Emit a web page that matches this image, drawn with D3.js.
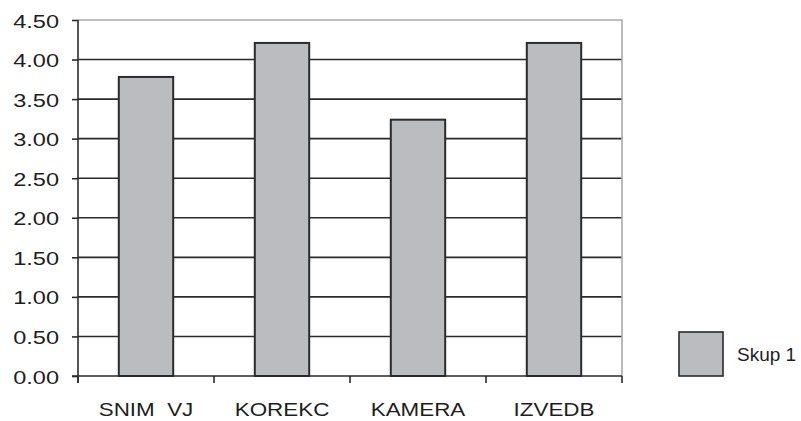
<!DOCTYPE html>
<html>
<head>
<meta charset="utf-8">
<script src="https://cdn.jsdelivr.net/npm/d3@7"></script>
<style>
  html, body { margin: 0; padding: 0; background: #fff; }
  svg { display: block; }
  text { font-family: "Liberation Sans", Arial, sans-serif; fill: #1e1e1e; }
</style>
</head>
<body>
<svg id="chart" width="801" height="421"></svg>
<script>
// Ocjene po kategorijama
const categories = ["SNIM  VJ", "KOREKC", "KAMERA", "IZVEDB"];
const values = [3.78, 4.21, 3.24, 4.21];
const yTicks = [0, 0.5, 1, 1.5, 2, 2.5, 3, 3.5, 4, 4.5];
const seriesName = "Skup 1";

const svg = d3.select("#chart");
const plot = { left: 78, right: 622, top: 20, bottom: 376 };
const ink = "#2b2b2b";
const barFill = "#bbbcc0";

const x = d3.scaleBand().domain(categories).range([plot.left, plot.right]).padding(0);
const y = d3.scaleLinear().domain([0, 4.5]).range([plot.bottom, plot.top]);

// Horizontal gridlines
svg.append("g").selectAll("line")
  .data(yTicks.filter(t => t > 0 && t < 4.5))
  .join("line")
  .attr("x1", plot.left).attr("x2", plot.right)
  .attr("y1", d => y(d)).attr("y2", d => y(d))
  .attr("stroke", ink).attr("stroke-width", 1.6);

// Plot frame (top and right edges)
svg.append("path")
  .attr("d", `M${plot.left},${y(4.5)}H${plot.right}V${plot.bottom}`)
  .attr("fill", "none").attr("stroke", "#a9a9ad").attr("stroke-width", 1.6);

// Bars
const barW = x.bandwidth() * 0.4;
svg.append("g").selectAll("rect")
  .data(categories.map((c, i) => ({ c, v: values[i] })))
  .join("rect")
  .attr("x", d => x(d.c) + (x.bandwidth() - barW) / 2)
  .attr("y", d => y(d.v))
  .attr("width", barW)
  .attr("height", d => y(0) - y(d.v))
  .attr("fill", barFill)
  .attr("stroke", ink).attr("stroke-width", 2);

// Y axis
const yAxis = svg.append("g")
  .attr("transform", `translate(${plot.left},0)`)
  .call(d3.axisLeft(y).tickValues(yTicks).tickFormat(d3.format(".2f")).tickSize(6).tickSizeOuter(0));
yAxis.select(".domain").remove();
yAxis.append("line")
  .attr("x1", 0).attr("x2", 0).attr("y1", y(4.5)).attr("y2", plot.bottom + 7)
  .attr("stroke", ink).attr("stroke-width", 1.6);
yAxis.selectAll(".tick line").attr("stroke", ink).attr("stroke-width", 1.6);
yAxis.selectAll(".tick text").remove();
yAxis.selectAll(".tick").append("text")
  .attr("transform", "translate(-19,7) scale(1.24,1)")
  .attr("text-anchor", "end")
  .style("font-size", "19px")
  .text(d => d3.format(".2f")(d));

// X axis with ticks at category boundaries
const xAxis = svg.append("g");
xAxis.append("line")
  .attr("x1", plot.left - 6).attr("x2", plot.right)
  .attr("y1", plot.bottom).attr("y2", plot.bottom)
  .attr("stroke", ink).attr("stroke-width", 1.6);
const bounds = categories.map(c => x(c)).concat([plot.right]);
xAxis.selectAll("line.tk").data(bounds).join("line")
  .attr("class", "tk")
  .attr("x1", d => d).attr("x2", d => d)
  .attr("y1", plot.bottom).attr("y2", plot.bottom + 7)
  .attr("stroke", ink).attr("stroke-width", 1.6);
xAxis.selectAll("text").data(categories).join("text")
  .attr("transform", d => `translate(${x(d) + x.bandwidth() / 2},416) scale(1.18,1)`)
  .attr("text-anchor", "middle")
  .attr("xml:space", "preserve")
  .style("font-size", "19px")
  .style("white-space", "pre")
  .text(d => d);

// Legend
const lg = svg.append("g");
lg.append("rect")
  .attr("x", 679).attr("y", 332).attr("width", 44).attr("height", 44)
  .attr("fill", barFill).attr("stroke", ink).attr("stroke-width", 1.6);
lg.append("text")
  .attr("x", 737).attr("y", 361)
  .style("font-size", "19px")
  .text(seriesName);
</script>
</body>
</html>
